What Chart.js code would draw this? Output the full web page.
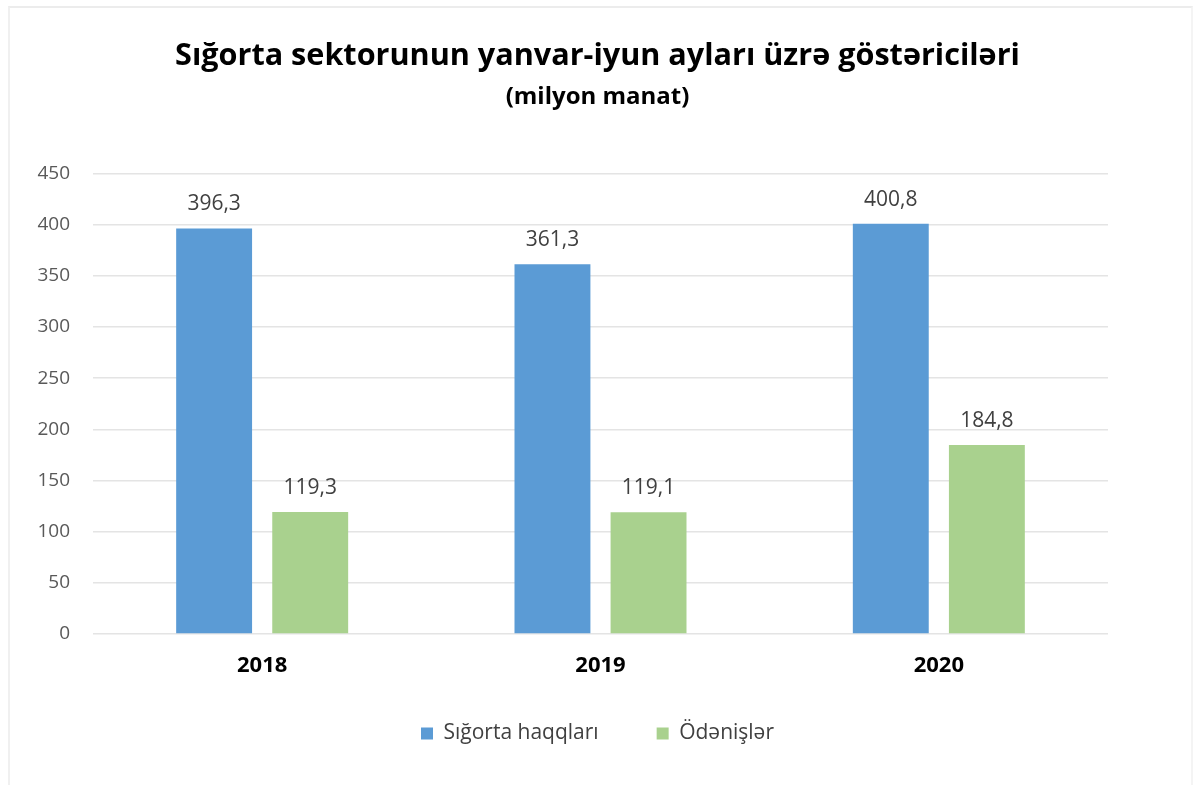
<!DOCTYPE html>
<html>
<head>
<meta charset="utf-8">
<script src="https://cdn.jsdelivr.net/npm/chart.js@4/dist/chart.umd.min.js"></script>
<style>
    html, body { margin: 0; padding: 0; background: #fff; }
    .frame {
        position: absolute; left: 8px; top: 6px; width: 1185px; height: 790px;
        border-top: 2px solid #ececec; border-left: 2px solid #f0f0f0; border-right: 2px solid #f4f4f4;
        box-sizing: border-box;
    }
    .wrap { position: absolute; left: 0; top: 0; width: 1195px; height: 785px; }
</style>
</head>
<body>
<div class="frame"></div>
<div class="wrap"><canvas id="chart"></canvas></div>
<script>
(function() {

    var years = ["2018", "2019", "2020"];
    var premiums = [396.3, 361.3, 400.8];   // Sığorta haqqları
    var payments = [119.3, 119.1, 184.8];   // Ödənişlər
    var seriesNames = ["Sığorta haqqları", "Ödənişlər"];
    var titleText = "Sığorta sektorunun yanvar-iyun ayları üzrə göstəriciləri";
    var subtitleText = "(milyon manat)";

    var FONT = "'Open Sans', 'Noto Sans', sans-serif";

    // draw the value above each bar
    var valueLabels = {
        id: "valueLabels",
        afterDatasetsDraw: function(chart) {
            var ctx = chart.ctx;
            ctx.save();
            ctx.font = "21px " + FONT;
            ctx.fillStyle = "#404040";
            ctx.textAlign = "center";
            ctx.textBaseline = "middle";
            chart.data.datasets.forEach(function(ds, i) {
                chart.getDatasetMeta(i).data.forEach(function(bar, j) {
                    var txt = ds.data[j].toFixed(1).replace(".", ",");
                    ctx.fillText(txt, bar.x, bar.y - 24);
                });
            });
            ctx.restore();
        }
    };

    // the legend padding also sets the gap between items, so pull the legend up a bit
    var legendNudge = {
        id: "legendNudge",
        afterLayout: function(chart) {
            chart.legend.top -= 16;
            chart.legend.bottom -= 16;
        }
    };

    new Chart(document.getElementById("chart"), {
        type: "bar",
        data: {
            labels: years,
            datasets: [{
                label: seriesNames[0],
                data: premiums,
                backgroundColor: "#5b9bd5"
            }, {
                label: seriesNames[1],
                data: payments,
                backgroundColor: "#a9d18e"
            }]
        },
        options: {
            responsive: true,
            maintainAspectRatio: false,
            animation: false,
            datasets: {
                bar: { categoryPercentage: 0.568, barPercentage: 0.79 }
            },
            layout: { padding: { left: 0, right: 0, top: 0, bottom: 15 } },
            scales: {
                x: {
                    grid: { display: false, drawTicks: false },
                    border: { display: false },
                    ticks: {
                        padding: 19,
                        color: "#000",
                        font: { family: FONT, size: 22, weight: "bold" }
                    },
                    afterFit: function(scale) { scale.height = 47; }
                },
                y: {
                    min: 0,
                    max: 450,
                    grid: { color: "#e4e4e4", lineWidth: 1.5, drawTicks: false },
                    border: { display: false },
                    ticks: {
                        stepSize: 50,
                        padding: 23,
                        color: "#595959",
                        font: { family: FONT, size: 19 }
                    },
                    afterFit: function(scale) { scale.width = 93; }
                },
                // empty axis on the right, only to keep the plot off the right edge
                y2: {
                    position: "right",
                    grid: { display: false, drawTicks: false },
                    border: { display: false },
                    ticks: { display: false },
                    afterFit: function(scale) { scale.width = 87; }
                }
            },
            plugins: {
                title: {
                    display: true,
                    text: titleText,
                    color: "#000",
                    font: { family: FONT, size: 30.6, weight: "bold" },
                    padding: { top: 38, bottom: 8 }
                },
                subtitle: {
                    display: true,
                    text: subtitleText,
                    color: "#000",
                    font: { family: FONT, size: 24, weight: "bold" },
                    padding: { top: 0, bottom: 62 }
                },
                legend: {
                    position: "bottom",
                    labels: {
                        boxWidth: 12,
                        boxHeight: 12,
                        padding: 58,
                        color: "#404040",
                        font: { family: FONT, size: 21 }
                    }
                },
                tooltip: { enabled: false }
            }
        },
        plugins: [valueLabels, legendNudge]
    });

})();
</script>
</body>
</html>
